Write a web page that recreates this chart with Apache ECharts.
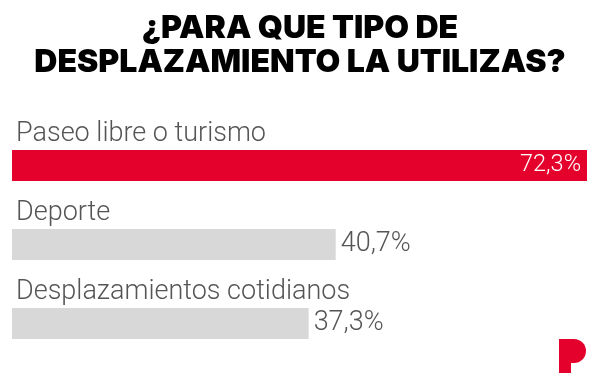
<!DOCTYPE html>
<html><head><meta charset="utf-8">
<script src="https://cdn.jsdelivr.net/npm/echarts@6/dist/echarts.min.js"></script>
<style>html,body{margin:0;padding:0;background:#fff}#c{width:600px;height:388px}</style>
</head><body><div id="c"></div>
<script>
var titleLines = ['¿PARA QUE TIPO DE', 'DESPLAZAMIENTO LA UTILIZAS?'];
var categories = ['Paseo libre o turismo', 'Deporte', 'Desplazamientos cotidianos'];
var values = [72.3, 40.7, 37.3];
var barColors = ['#e4022d', '#d8d8d8', '#d8d8d8'];

var chart = echarts.init(document.getElementById('c'), null, {renderer: 'canvas'});
var fmt = function (v) { return String(v).replace('.', ',') + '%'; };
var LABEL_FONT = 'Roboto';
chart.setOption({
  animation: false,
  title: {
    text: titleLines.join('\n'),
    left: 'center', top: 6, padding: [5, 15, 5, 5],
    textStyle: {fontFamily: 'Inter', fontWeight: 900, fontSize: 32, lineHeight: 34, color: '#000'}
  },
  grid: {left: 12, right: 13, top: 126, bottom: 25, containLabel: false},
  xAxis: {type: 'value', min: 0, max: 72.3, show: false},
  yAxis: {
    type: 'category', data: categories, inverse: true,
    axisLine: {show: false}, axisTick: {show: false},
    axisLabel: {
      inside: true, margin: 4, align: 'left', verticalAlign: 'bottom',
      lineHeight: 62, fontFamily: LABEL_FONT, fontWeight: 300, fontSize: 27, color: '#555'
    }
  },
  series: [{
    type: 'bar', barWidth: 31,
    data: values.map(function (v, i) {
      return {
        value: v,
        itemStyle: {color: barColors[i]},
        label: i === 0
          ? {show: true, position: 'insideRight', distance: 6, color: '#fff', fontSize: 23.5}
          : {show: true, position: 'right', distance: 5, color: '#555', fontSize: 27}
      };
    }),
    label: {fontFamily: LABEL_FONT, fontWeight: 300, formatter: function (p) { return fmt(p.value); }}
  }],
  graphic: [
    {type: 'rect', silent: true, shape: {x: 559, y: 339, width: 15, height: 24}, style: {fill: '#e4022d'}},
    {type: 'sector', silent: true, shape: {cx: 574, cy: 351, r: 12, r0: 0, startAngle: -Math.PI / 2, endAngle: Math.PI / 2}, style: {fill: '#e4022d'}},
    {type: 'rect', silent: true, shape: {x: 559, y: 362, width: 12, height: 11}, style: {fill: '#e4022d'}}
  ]
});
</script></body></html>
